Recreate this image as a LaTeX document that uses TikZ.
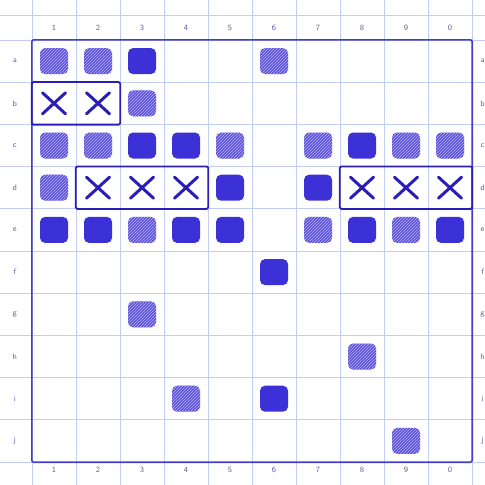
\documentclass[tikz,border=0pt]{standalone}
\usetikzlibrary{positioning,patterns,shapes.misc}
\definecolor{ink}{RGB}{60,48,215}
\definecolor{xink}{RGB}{42,30,185}
\definecolor{paperblue}{RGB}{192,206,240}
\definecolor{marginpink}{RGB}{238,192,202}
\begin{document}
\begin{tikzpicture}[
    x=44pt, y=-42.2pt,
    cell/.style={rectangle, minimum width=44pt, minimum height=42.2pt, inner sep=0pt},
    filledmark/.style={rectangle, fill=ink, rounded corners=5pt, minimum width=28pt, minimum height=26pt},
    hatchmark/.style={rectangle, preaction={fill=ink!85}, pattern=north east lines, pattern color=ink!35, rounded corners=5pt, minimum width=28pt, minimum height=26pt},
    crossmark/.style={cross out, draw=xink, line width=3pt, line cap=round, minimum width=20pt, minimum height=18pt, inner sep=0pt},
    shipbox/.style={draw=xink, line width=1.8pt, rounded corners=1.5pt},
    border/.style={draw=ink!85!gray, line width=1.6pt, rounded corners=2pt},
    paperline/.style={draw=paperblue, line width=0.8pt},
    marginline/.style={draw=marginpink, line width=0.8pt},
    lbl/.style={font=\sffamily\footnotesize, text=ink!45!gray}
]
    \useasboundingbox (-0.7273,-0.9479) rectangle (10.2955,10.545);
    \clip (-0.7273,-0.9479) rectangle (10.2955,10.545);

    % graph paper
    \foreach \k in {0,...,10} {
        \draw[paperline] (\k,-1) -- (\k,11);
        \draw[paperline] (-1,\k) -- (11,\k);
    }
    \draw[marginline] (-1,-0.59) -- (11,-0.59);

    % board cells
    \foreach \r [count=\i] in {a,...,j}
        \foreach \c in {1,...,10}
            \node[cell] (\r\c) at (\c-0.5,\i-0.5) {};

    % coordinates round the board
    \foreach \t [count=\c] in {1,2,3,4,5,6,7,8,9,0} {
        \node[lbl] (top\c) at (\c-0.5,-0.28) {\t};
        \node[lbl] (bottom\c) at (\c-0.5,10.19) {\t};
    }
    \foreach \r [count=\i] in {a,...,j} {
        \node[lbl] (left\r) at (-0.39,\i-0.5) {\r};
        \node[lbl] (right\r) at (10.24,\i-0.5) {\r};
    }

    \draw[border] (a1.north west) rectangle (j10.south east);

    % shots
    \foreach \m in {a3,c3,c4,c8,d5,d7,e1,e2,e4,e5,e8,e10,f6,i6}
        \node[filledmark] at (\m) {};
    \foreach \m in {a1,a2,a6,b3,c1,c2,c5,c7,c9,c10,d1,e3,e7,e9,g3,h8,i4,j9}
        \node[hatchmark] at (\m) {};
    \foreach \m in {b1,b2,d2,d3,d4,d8,d9,d10}
        \node[crossmark] at (\m) {};

    % ships
    \draw[shipbox] (b1.north west) rectangle (b2.south east);
    \draw[shipbox] (d2.north west) rectangle (d4.south east);
    \draw[shipbox] (d8.north west) rectangle (d10.south east);
\end{tikzpicture}
\end{document}
